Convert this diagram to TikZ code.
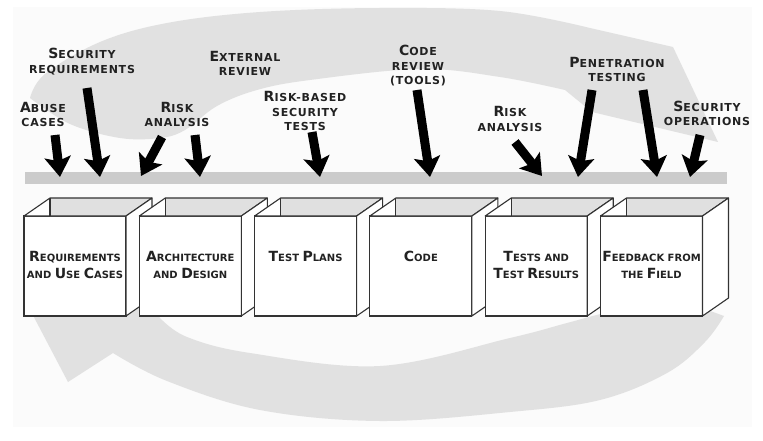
\documentclass[tikz,border=0pt]{standalone}
\usepackage{fontspec}
\usetikzlibrary{arrows.meta,calc}
\newfontfamily\labfont{DejaVu Sans}[LetterSpace=7]
\newfontfamily\boxfont{DejaVu Sans}[LetterSpace=0]
\newcommand\Bg[1]{{\fontsize{14}{14}\selectfont #1}}
\definecolor{bandc}{HTML}{E1E1E1}
\definecolor{barc}{HTML}{CBCBCB}
\definecolor{innerc}{HTML}{E0E0E0}
\definecolor{edgec}{HTML}{333333}
\definecolor{bgc}{HTML}{FBFBFB}
\definecolor{txtc}{HTML}{222222}
\tikzset{
  lab/.style={font=\labfont\bfseries\fontsize{11}{14.5}\selectfont, align=center, inner sep=0pt, text=txtc},
  boxtxt/.style={font=\boxfont\bfseries\fontsize{10}{17}\selectfont, align=center, inner sep=0pt, anchor=north, text=txtc},
  front/.style={draw=edgec, line width=1.1pt, fill=white, minimum width=102pt, minimum height=100pt, inner sep=0pt, outer sep=0pt},
  face/.style={draw=edgec, line width=1.1pt, line join=round},
  barstyle/.style={fill=barc, minimum width=702pt, minimum height=12pt, inner sep=0pt, outer sep=0pt},
  bigarrow/.style={line width=9pt, draw=black, -{Stealth[length=20pt,width=26pt,inset=4pt]}},
}
\begin{document}
\begin{tikzpicture}[x=1pt,y=-1pt]
\useasboundingbox (0,0) rectangle (763,441);
\fill[bgc] (13,7) rectangle (752,427);
% upper circular band
\fill[bandc] plot[smooth, tension=0.6] coordinates {(30,98) (45,74) (100,42) (167,23) (260,12) (380,8) (500,11) (590,28)}
  -- (673,47) -- (718,142) -- (592,112) -- (565,90)
  -- plot[smooth, tension=0.6] coordinates {(565,90) (500,77) (420,69) (310,80) (257,90) (217,106) (185,130) (160,138) (120,138) (70,124) (30,98)} -- cycle;
% lower circular band
\fill[bandc] plot[smooth, tension=0.6] coordinates {(724,316) (705,342) (667,373) (600,400) (510,412) (380,421) (260,410) (167,381) (113,353)}
  -- (68,382) -- (26,302) -- (150,305) -- (160,318)
  -- plot[smooth, tension=0.6] coordinates {(160,318) (187,337) (250,353) (380,366) (510,338) (567,323) (610,312) (680,300)} -- cycle;
% bar
\node[barstyle] (bar) at (376,178) {};
% boxes
\foreach \i [evaluate=\i as \cx using 75+115.3*(\i-1)] in {1,...,6} {
  \node[front] (f\i) at (\cx,266) {};
  \fill[white] (f\i.north west) -- ++(26,-18) -- ++(102,0) -- (f\i.north east) -- cycle;
  \fill[innerc] (f\i.north west) ++(26,-18) -- ++(102,0) -- (f\i.north east) -- ++(-76,0) -- cycle;
  \draw[face] (f\i.north west) -- ++(26,-18) -- ++(102,0) -- (f\i.north east) -- cycle;
  \draw[face] (f\i.north west) ++(26,-18) -- ++(0,18);
  \filldraw[face, fill=white] (f\i.north east) -- ++(26,-18) -- ++(0,100) -- (f\i.south east) -- cycle;
}
\node[boxtxt] (t1) at ([yshift=-35pt]f1.north) {\Bg{R}EQUIREMENTS\\AND \Bg{U}SE \Bg{C}ASES};
\node[boxtxt] (t2) at ([yshift=-35pt]f2.north) {\Bg{A}RCHITECTURE\\AND \Bg{D}ESIGN};
\node[boxtxt] (t3) at ([yshift=-35pt]f3.north) {\Bg{T}EST \Bg{P}LANS};
\node[boxtxt] (t4) at ([yshift=-35pt]f4.north) {\Bg{C}ODE};
\node[boxtxt] (t5) at ([yshift=-35pt]f5.north) {\Bg{T}ESTS AND\\\Bg{T}EST \Bg{R}ESULTS};
\node[boxtxt] (t6) at ([yshift=-35pt]f6.north) {\Bg{F}EEDBACK FROM\\THE \Bg{F}IELD};
% arrows
\coordinate (a1s) at (55,135);  \coordinate (a1e) at (60,177);
\coordinate (a2s) at (87,88);   \coordinate (a2e) at (100,177);
\coordinate (a3s) at (162,137); \coordinate (a3e) at (141,176);
\coordinate (a4s) at (195,135); \coordinate (a4e) at (200,177);
\coordinate (a5s) at (312,132); \coordinate (a5e) at (320,177);
\coordinate (a6s) at (417,90);  \coordinate (a6e) at (430,177);
\coordinate (a7s) at (515,142); \coordinate (a7e) at (542,176);
\coordinate (a8s) at (592,90);  \coordinate (a8e) at (578,177);
\coordinate (a9s) at (643,90);  \coordinate (a9e) at (657,177);
\coordinate (a10s) at (700,135); \coordinate (a10e) at (690,177);
\foreach \k in {1,...,10} { \draw[bigarrow] (a\k s) -- (a\k e); }
% labels
\node[lab] (l1) at (43,114.5) {\Bg{A}BUSE\\CASES};
\node[lab] (l2) at (82,61.5) {\Bg{S}ECURITY\\REQUIREMENTS};
\node[lab] (l3) at (245,63.5) {\Bg{E}XTERNAL\\REVIEW};
\node[lab] (l4) at (177,114.5) {\Bg{R}ISK\\ANALYSIS};
\node[lab] (l5) at (305,111) {\Bg{R}ISK-BASED\\SECURITY\\TESTS};
\node[lab] (l6) at (418,66) {\Bg{C}ODE\\REVIEW\\(TOOLS)};
\node[lab] (l7) at (510,119) {\Bg{R}ISK\\ANALYSIS};
\node[lab] (l8) at (617,69.5) {\Bg{P}ENETRATION\\TESTING};
\node[lab] (l9) at (707,113.5) {\Bg{S}ECURITY\\OPERATIONS};
\end{tikzpicture}
\end{document}
